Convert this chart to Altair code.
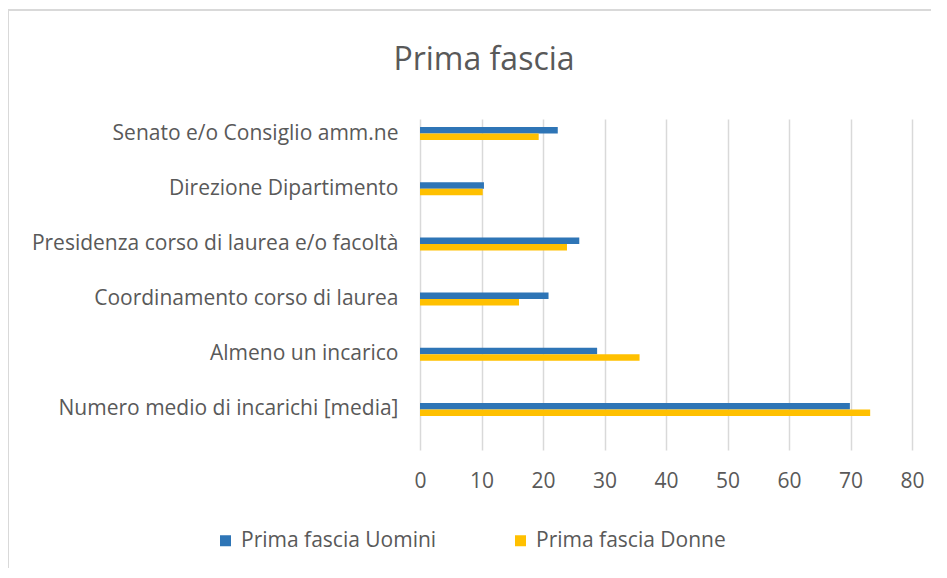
import altair as alt
import pandas as pd

categories = [
    "Senato e/o Consiglio amm.ne",
    "Direzione Dipartimento",
    "Presidenza corso di laurea e/o facoltà",
    "Coordinamento corso di laurea",
    "Almeno un incarico",
    "Numero medio di incarichi [media]",
]
uomini = [22.4, 10.4, 25.9, 20.9, 28.8, 69.9]
donne = [19.3, 10.2, 23.9, 16.1, 35.7, 73.2]
series = ["Prima fascia Uomini", "Prima fascia Donne"]
colors = ["#2E75B6", "#FFC000"]
x_ticks = [0, 10, 20, 30, 40, 50, 60, 70, 80]

rows = []
for c, u, d in zip(categories, uomini, donne):
    rows.append({"cat": c, "serie": series[0], "val": u})
    rows.append({"cat": c, "serie": series[1], "val": d})
df = pd.DataFrame(rows)

FONT = "Open Sans"
GRAY = "#595959"

bars = alt.Chart(df).mark_bar().encode(
    y=alt.Y(
        "cat:N",
        sort=categories,
        scale=alt.Scale(paddingInner=0.765, paddingOuter=0.3825, range=[0, 331]),
        axis=alt.Axis(
            title=None, domain=False, ticks=False, labelPadding=22,
            labelFontSize=21, labelColor=GRAY, labelFont=FONT, labelLimit=400,
        ),
    ),
    yOffset=alt.YOffset("serie:N", sort=series, scale=alt.Scale(paddingInner=0, paddingOuter=0)),
    x=alt.X(
        "val:Q",
        scale=alt.Scale(domain=[0, 80], nice=False),
        axis=alt.Axis(
            title=None, values=x_ticks, domain=False, ticks=False, labelPadding=20,
            labelFontSize=21, labelColor=GRAY, labelFont=FONT, labelFlush=False,
            grid=True, gridColor="#d9d9d9", gridWidth=1.5,
        ),
    ),
    color=alt.Color(
        "serie:N", sort=series,
        scale=alt.Scale(domain=series, range=colors),
        legend=alt.Legend(
            title=None, orient="none", direction="horizontal", columns=2,
            legendX=-205, legendY=424, symbolType="square", symbolSize=121,
            symbolStrokeWidth=0, labelFontSize=21, labelColor=GRAY, labelFont=FONT,
            labelOffset=5, columnPadding=73, labelLimit=400,
        ),
    ),
)

frame = alt.Chart(pd.DataFrame({"a": [0]})).mark_rect(
    fill=None, stroke="#d9d9d9", strokeWidth=2, clip=False
).encode(
    x=alt.value(-412), x2=alt.value(1000), y=alt.value(-96), y2=alt.value(1000)
)

chart = alt.layer(frame, bars).properties(
    width=492,
    height=344,
    background="white",
    autosize=alt.AutoSizeParams(type="none"),
    padding={"left": 412, "top": 98, "right": 19, "bottom": 118},
    title=alt.TitleParams(
        "Prima fascia", font=FONT, fontSize=32, fontWeight="normal", color=GRAY,
        anchor="middle", frame="group", dx=-182, offset=0, dy=93, baseline="alphabetic",
    ),
).configure_view(strokeWidth=0, stroke="transparent")

chart.save("out.html", embed_options={"renderer": "svg", "actions": False})
